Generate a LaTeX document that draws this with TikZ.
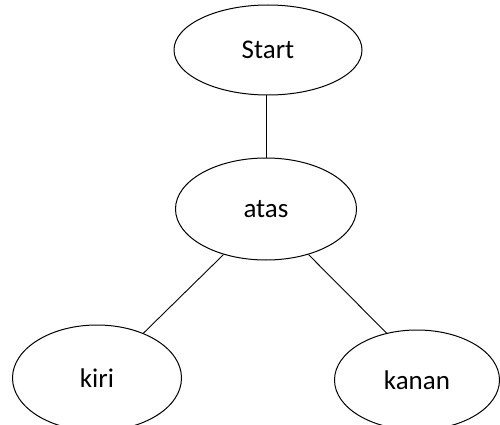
\documentclass[tikz,border=0pt]{standalone}
\usepackage{fontspec}
\setmainfont{Carlito}
\usetikzlibrary{shapes.geometric}

\begin{document}
\begin{tikzpicture}[x=1pt,y=-1pt]
    \useasboundingbox (0,0) rectangle (500,425);
    \begin{scope}[every node/.style={ellipse,draw,line width=1pt,inner sep=0pt,
        font=\fontsize{27}{30}\selectfont}]
      \node[minimum width=188pt,minimum height=90pt] (start) at (268,50) {Start};
      \node[minimum width=181pt,minimum height=102pt] (atas) at (266,209) {atas};
      \node[minimum width=169pt,minimum height=106pt] (kiri) at (97,378) {kiri};
      \node[minimum width=165pt,minimum height=100pt] (kanan) at (417,380) {kanan};
    \end{scope}

    \begin{scope}[every edge/.style={draw,line width=0.9pt}]
      \path (start.south -| atas.north) edge (atas.north);
      \path (atas.227) edge (kiri.44);
      \path (atas.313) edge (kanan.123);
    \end{scope}
  \end{tikzpicture}
\end{document}
